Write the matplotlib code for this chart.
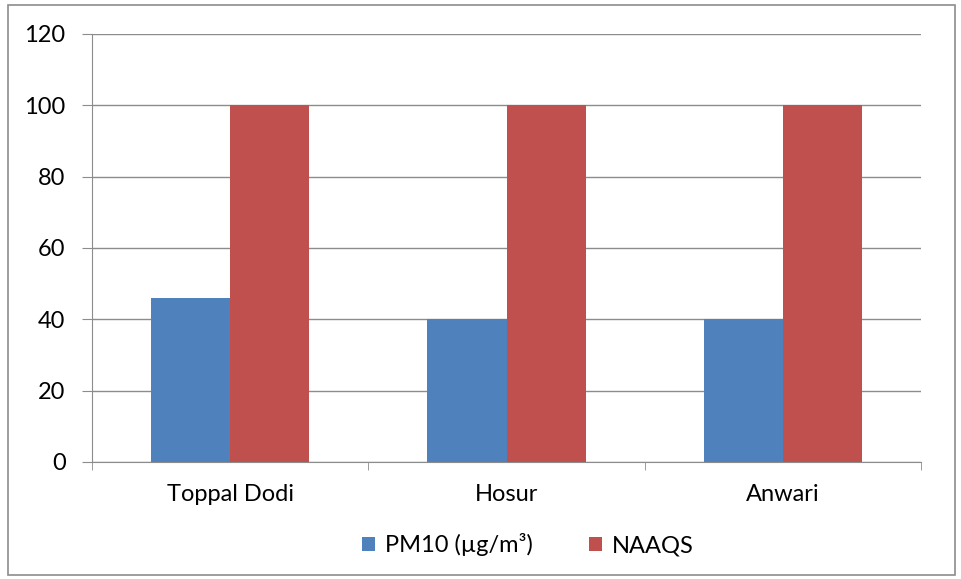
import matplotlib
matplotlib.use("Agg")
import matplotlib.pyplot as plt
import numpy as np
from matplotlib.patches import Rectangle

categories = ["Toppal Dodi", "Hosur", "Anwari"]
pm10 = [46, 40, 40]
naaqs = [100, 100, 100]
series_names = ["PM10 (µg/m³)", "NAAQS"]
yticks = [0, 20, 40, 60, 80, 100, 120]

plt.rcParams['font.family'] = ['Lato', 'DejaVu Sans']

fig = plt.figure(figsize=(9.61, 5.79), dpi=100)
ax = fig.add_axes([92/961, 1-462/579, (921-92)/961, (462-34)/579])

x = np.arange(len(categories))
w = 0.286
blue = "#4F81BD"
red = "#C0504D"
ax.bar(x - w/2, pm10, width=w, color=blue, label=series_names[0], zorder=3)
ax.bar(x + w/2, naaqs, width=w, color=red, label=series_names[1], zorder=3)

fs = 17
ax.set_xlim(-0.5, len(categories) - 0.5)
ax.set_ylim(0, 120)
ax.set_yticks(yticks)
ax.set_yticklabels([str(v) for v in yticks], fontsize=fs)
ax.yaxis.grid(True, color="#8C8C8C", linewidth=1, zorder=0)
ax.set_xticks(x)
ax.set_xticklabels(categories, fontsize=fs)
ax.tick_params(axis='x', length=0, pad=16)
ax.set_xticks(np.arange(-0.5, len(categories)), minor=True)
ax.tick_params(axis='x', which='minor', length=6, color="#8C8C8C", direction='out')
ax.tick_params(axis='y', length=7, color="#8C8C8C", direction='out', pad=12)
for s in ['top', 'right']:
    ax.spines[s].set_visible(False)
for s in ['left', 'bottom']:
    ax.spines[s].set_color("#8C8C8C")
ax.set_axisbelow(True)

leg = fig.legend(loc='center', bbox_to_anchor=(528/961, 1-545/579), ncol=2, frameon=False,
                 fontsize=fs, handlelength=0.55, handleheight=0.55, columnspacing=2.4, handletextpad=0.4)

fig.patches.append(Rectangle((8/961, 4/579), (955-8)/961, (574-4)/579, transform=fig.transFigure,
                             fill=False, edgecolor="#8C8C8C", linewidth=1.2))

fig.savefig("out.png", dpi=100)
